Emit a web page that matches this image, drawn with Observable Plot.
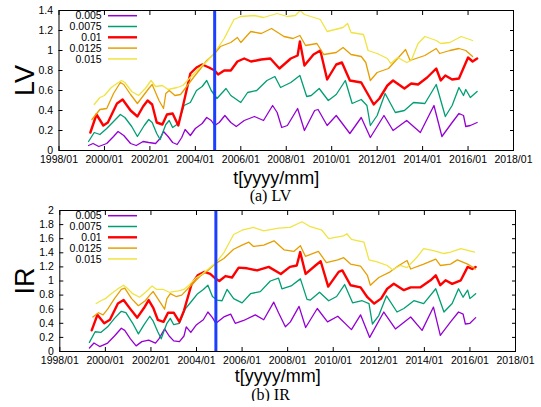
<!DOCTYPE html>
<html><head><meta charset="utf-8">
<script src="https://cdn.jsdelivr.net/npm/d3@7"></script>
<script src="https://cdn.jsdelivr.net/npm/@observablehq/plot@0.6"></script>
<style>
body{margin:0;background:#fff;width:541px;}
.cap{font-family:"Liberation Serif","DejaVu Serif",serif;font-size:16px;text-align:center;width:541px;color:#000;}
svg{overflow:visible;}
</style></head><body><div id="fig"></div>
<script>
// ---- data ----
const seriesNames = ["0.005", "0.0075", "0.01", "0.0125", "0.015"];
const seriesColors = ["#9400d3", "#009e73", "#ff0000", "#e69f00", "#f0e442"];
const xTicks = [1998, 2000, 2002, 2004, 2006, 2008, 2010, 2012, 2014, 2016, 2018];
const xTickLabels = ["1998/01", "2000/01", "2002/01", "2004/01", "2006/01", "2008/01", "2010/01", "2012/01", "2014/01", "2016/01", "2018/01"];
const eventTime = 2004.85;
const lvTicks = [0, 0.2, 0.4, 0.6, 0.8, 1, 1.2, 1.4];
const lvTickLabels = ["0", "0.2", "0.4", "0.6", "0.8", "1", "1.2", "1.4"];
const irTicks = [0, 0.2, 0.4, 0.6, 0.8, 1, 1.2, 1.4, 1.6, 1.8, 2];
const irTickLabels = ["0", "0.2", "0.4", "0.6", "0.8", "1", "1.2", "1.4", "1.6", "1.8", "2"];

// LV series: [time (decimal year), value]
const lv005 = [[1999.3,0.05],[1999.5,0.07],[1999.75,0.04],[2000.1,0.07],[2000.4,0.14],[2000.6,0.19],[2000.85,0.15],[2001.15,0.07],[2001.4,0.05],[2001.7,0.09],[2001.95,0.08],[2002.25,0.07],[2002.45,0.12],[2002.6,0.19],[2002.8,0.14],[2003.0,0.08],[2003.2,0.06],[2003.4,0.13],[2003.55,0.21],[2003.78,0.15],[2004.0,0.22],[2004.3,0.27],[2004.5,0.33],[2004.7,0.30],[2004.85,0.25],[2005.05,0.28],[2005.3,0.35],[2005.56,0.28],[2005.8,0.24],[2006.15,0.30],[2006.6,0.34],[2007.0,0.30],[2007.4,0.45],[2007.6,0.38],[2007.8,0.23],[2008.05,0.25],[2008.5,0.42],[2008.8,0.20],[2009.25,0.40],[2009.4,0.41],[2009.8,0.25],[2010.2,0.35],[2010.8,0.17],[2011.3,0.33],[2011.7,0.13],[2012.3,0.35],[2012.7,0.20],[2013.3,0.30],[2013.9,0.18],[2014.5,0.45],[2014.85,0.14],[2015.3,0.28],[2015.6,0.37],[2015.8,0.35],[2015.9,0.24],[2016.1,0.25],[2016.4,0.28]];
const lv0075 = [[1999.3,0.09],[1999.55,0.18],[1999.8,0.16],[2000.1,0.22],[2000.4,0.29],[2000.7,0.36],[2000.9,0.33],[2001.2,0.24],[2001.45,0.14],[2001.75,0.25],[2001.95,0.31],[2002.1,0.28],[2002.3,0.17],[2002.45,0.11],[2002.7,0.26],[2002.85,0.30],[2003.0,0.23],[2003.25,0.27],[2003.5,0.45],[2003.78,0.48],[2004.05,0.60],[2004.3,0.64],[2004.5,0.70],[2004.7,0.60],[2004.95,0.52],[2005.35,0.62],[2005.56,0.55],[2006.0,0.48],[2006.3,0.58],[2006.7,0.60],[2007.15,0.70],[2007.5,0.74],[2007.75,0.63],[2008.2,0.68],[2008.6,0.75],[2008.9,0.54],[2009.1,0.55],[2009.45,0.62],[2009.85,0.50],[2010.2,0.56],[2010.6,0.70],[2010.9,0.47],[2011.3,0.51],[2011.55,0.45],[2011.7,0.25],[2012.0,0.35],[2012.35,0.57],[2012.8,0.38],[2013.2,0.40],[2013.6,0.48],[2014.1,0.47],[2014.6,0.66],[2015.0,0.34],[2015.3,0.45],[2015.6,0.63],[2015.8,0.55],[2015.9,0.61],[2016.1,0.53],[2016.4,0.59]];
const lv01 = [[1999.38,0.18],[1999.65,0.36],[1999.95,0.25],[2000.15,0.28],[2000.55,0.47],[2000.8,0.51],[2001.15,0.40],[2001.45,0.34],[2001.7,0.44],[2001.9,0.50],[2002.1,0.46],[2002.3,0.28],[2002.55,0.26],[2002.75,0.36],[2003.0,0.37],[2003.25,0.25],[2003.45,0.44],[2003.78,0.77],[2004.05,0.83],[2004.3,0.86],[2004.6,0.83],[2004.85,0.80],[2005.0,0.76],[2005.27,0.80],[2005.56,0.80],[2005.85,0.89],[2006.15,0.92],[2006.45,0.89],[2006.9,0.91],[2007.3,0.92],[2007.7,0.82],[2008.2,0.92],[2008.5,0.95],[2008.6,1.09],[2008.8,0.85],[2009.2,0.96],[2009.5,1.0],[2009.8,0.71],[2010.2,0.86],[2010.45,0.88],[2010.8,0.70],[2011.3,0.68],[2011.55,0.58],[2011.85,0.46],[2012.1,0.52],[2012.45,0.65],[2012.7,0.70],[2013.2,0.62],[2013.5,0.67],[2013.8,0.66],[2014.2,0.73],[2014.6,0.82],[2014.8,0.70],[2015.0,0.75],[2015.3,0.71],[2015.6,0.72],[2016.0,0.93],[2016.2,0.89],[2016.4,0.92]];
const lv0125 = [[1999.45,0.31],[1999.8,0.41],[2000.1,0.42],[2000.4,0.57],[2000.7,0.68],[2000.85,0.66],[2001.15,0.56],[2001.45,0.47],[2001.75,0.56],[2001.95,0.62],[2002.1,0.66],[2002.4,0.50],[2002.6,0.42],[2002.7,0.57],[2002.85,0.60],[2003.1,0.55],[2003.35,0.56],[2003.65,0.65],[2003.95,0.74],[2004.2,0.81],[2004.5,0.90],[2004.85,0.97],[2005.1,1.04],[2005.56,1.08],[2005.85,1.13],[2006.0,1.08],[2006.44,1.19],[2006.9,1.17],[2007.35,1.22],[2007.9,1.14],[2008.3,1.12],[2008.6,1.15],[2008.85,1.05],[2009.35,1.07],[2009.65,0.96],[2010.2,0.98],[2010.5,1.03],[2010.85,0.96],[2011.3,0.94],[2011.5,0.88],[2011.7,0.70],[2012.0,0.78],[2012.5,0.82],[2012.9,0.92],[2013.25,1.01],[2013.45,0.90],[2014.1,0.95],[2014.6,1.02],[2014.75,0.97],[2015.2,1.0],[2015.6,1.02],[2015.9,1.0],[2016.2,0.94]];
const lv015 = [[1999.55,0.46],[1999.8,0.53],[2000.0,0.55],[2000.3,0.63],[2000.55,0.67],[2000.75,0.70],[2000.9,0.68],[2001.2,0.59],[2001.5,0.55],[2001.8,0.62],[2002.05,0.70],[2002.25,0.64],[2002.55,0.65],[2002.8,0.61],[2003.2,0.63],[2003.45,0.65],[2003.65,0.70],[2003.95,0.77],[2004.2,0.83],[2004.5,0.89],[2004.85,0.98],[2005.27,1.12],[2005.7,1.31],[2006.0,1.34],[2006.6,1.35],[2007.0,1.33],[2007.6,1.37],[2008.05,1.34],[2008.4,1.35],[2008.62,1.40],[2008.8,1.36],[2009.5,1.31],[2009.8,1.19],[2010.5,1.23],[2010.7,1.27],[2010.85,1.18],[2011.4,1.16],[2011.6,1.0],[2012.0,0.97],[2012.45,0.92],[2012.6,0.87],[2012.9,0.93],[2013.3,0.88],[2013.5,0.90],[2013.8,1.07],[2014.1,1.14],[2014.6,1.10],[2014.8,1.07],[2015.2,1.08],[2015.7,1.14],[2016.2,1.10]];

// IR series
const ir005 = [[1999.3,0.05],[1999.5,0.12],[1999.75,0.07],[2000.1,0.12],[2000.4,0.22],[2000.7,0.33],[2000.85,0.30],[2001.1,0.18],[2001.35,0.08],[2001.6,0.14],[2001.9,0.16],[2002.2,0.12],[2002.35,0.18],[2002.6,0.32],[2002.8,0.22],[2003.0,0.15],[2003.25,0.14],[2003.45,0.22],[2003.55,0.35],[2003.75,0.27],[2004.0,0.38],[2004.3,0.45],[2004.5,0.56],[2004.7,0.48],[2004.85,0.40],[2005.2,0.49],[2005.5,0.53],[2005.7,0.40],[2006.07,0.44],[2006.58,0.52],[2006.95,0.45],[2007.39,0.70],[2007.6,0.55],[2007.9,0.35],[2008.12,0.42],[2008.5,0.64],[2008.79,0.34],[2009.3,0.61],[2009.75,0.42],[2010.2,0.50],[2010.8,0.31],[2011.2,0.52],[2011.6,0.20],[2012.22,0.56],[2012.73,0.32],[2013.4,0.49],[2013.9,0.30],[2014.4,0.63],[2014.7,0.23],[2015.15,0.42],[2015.5,0.56],[2015.7,0.53],[2015.8,0.39],[2016.0,0.40],[2016.25,0.48]];
const ir0075 = [[1999.3,0.13],[1999.55,0.28],[1999.8,0.27],[2000.1,0.35],[2000.4,0.47],[2000.7,0.57],[2000.9,0.55],[2001.2,0.40],[2001.45,0.25],[2001.7,0.38],[2001.95,0.50],[2002.1,0.43],[2002.3,0.28],[2002.45,0.18],[2002.7,0.40],[2002.85,0.47],[2003.0,0.38],[2003.25,0.40],[2003.5,0.60],[2003.8,0.72],[2004.05,0.82],[2004.3,0.88],[2004.5,0.94],[2004.7,0.78],[2004.9,0.73],[2005.12,0.72],[2005.34,0.88],[2005.63,0.75],[2006.0,0.69],[2006.37,0.82],[2006.8,0.85],[2007.24,1.0],[2007.6,1.04],[2007.75,0.89],[2008.15,0.93],[2008.56,1.03],[2008.85,0.74],[2009.0,0.73],[2009.4,0.84],[2009.8,0.72],[2010.15,0.78],[2010.5,0.95],[2010.85,0.69],[2011.27,0.72],[2011.57,0.68],[2011.72,0.39],[2012.0,0.51],[2012.34,0.79],[2012.8,0.56],[2013.1,0.61],[2013.54,0.72],[2013.97,0.68],[2014.5,0.89],[2014.86,0.56],[2015.22,0.68],[2015.5,0.89],[2015.7,0.77],[2015.9,0.87],[2016.0,0.75],[2016.25,0.82]];
const ir01 = [[1999.4,0.30],[1999.65,0.52],[1999.95,0.40],[2000.2,0.45],[2000.55,0.68],[2000.8,0.73],[2001.15,0.58],[2001.4,0.48],[2001.7,0.62],[2001.9,0.73],[2002.1,0.62],[2002.3,0.45],[2002.55,0.42],[2002.75,0.55],[2003.0,0.55],[2003.25,0.42],[2003.45,0.58],[2003.78,0.95],[2004.05,1.08],[2004.35,1.13],[2004.6,1.10],[2004.85,1.03],[2005.0,1.0],[2005.27,1.07],[2005.56,1.05],[2005.85,1.19],[2006.22,1.18],[2006.66,1.15],[2007.17,1.20],[2007.7,1.10],[2008.1,1.20],[2008.4,1.22],[2008.55,1.41],[2008.79,1.10],[2009.22,1.22],[2009.45,1.28],[2009.78,0.92],[2010.24,1.13],[2010.4,1.15],[2010.76,0.94],[2011.2,0.91],[2011.5,0.77],[2011.8,0.68],[2012.1,0.75],[2012.37,0.89],[2012.66,0.96],[2013.1,0.87],[2013.4,0.91],[2013.83,0.91],[2014.27,1.01],[2014.5,1.08],[2014.7,0.94],[2014.93,1.01],[2015.22,0.96],[2015.6,1.01],[2015.9,1.20],[2016.1,1.17],[2016.25,1.20]];
const ir0125 = [[1999.45,0.49],[1999.7,0.55],[1999.9,0.52],[2000.1,0.60],[2000.4,0.75],[2000.7,0.88],[2000.85,0.90],[2001.15,0.75],[2001.45,0.65],[2001.75,0.72],[2001.95,0.80],[2002.1,0.85],[2002.4,0.70],[2002.6,0.60],[2002.7,0.75],[2002.85,0.82],[2003.1,0.78],[2003.35,0.80],[2003.65,0.90],[2003.95,1.0],[2004.2,1.08],[2004.5,1.15],[2004.85,1.25],[2005.2,1.32],[2005.63,1.45],[2006.0,1.51],[2006.3,1.55],[2006.5,1.49],[2006.95,1.51],[2007.4,1.57],[2007.85,1.44],[2008.27,1.42],[2008.56,1.50],[2008.78,1.35],[2009.35,1.42],[2009.7,1.26],[2010.2,1.30],[2010.46,1.33],[2010.76,1.24],[2011.2,1.21],[2011.5,1.08],[2011.63,0.94],[2012.0,1.05],[2012.5,1.13],[2012.88,1.22],[2013.24,1.29],[2013.4,1.17],[2013.97,1.24],[2014.5,1.31],[2014.7,1.22],[2015.15,1.24],[2015.45,1.30],[2015.9,1.24],[2016.25,1.17]];
const ir015 = [[1999.6,0.68],[1999.8,0.72],[2000.0,0.75],[2000.3,0.83],[2000.6,0.90],[2000.8,0.94],[2000.95,0.90],[2001.2,0.82],[2001.5,0.77],[2001.8,0.85],[2002.05,0.93],[2002.25,0.88],[2002.55,0.88],[2002.8,0.84],[2003.2,0.86],[2003.45,0.88],[2003.7,0.95],[2004.0,1.05],[2004.25,1.10],[2004.55,1.18],[2004.85,1.26],[2005.2,1.40],[2005.63,1.66],[2006.0,1.72],[2006.5,1.76],[2006.95,1.71],[2007.6,1.75],[2008.1,1.76],[2008.63,1.84],[2009.0,1.77],[2009.5,1.72],[2009.8,1.60],[2010.45,1.64],[2010.6,1.67],[2010.8,1.59],[2011.35,1.55],[2011.57,1.30],[2011.93,1.27],[2012.37,1.22],[2012.6,1.16],[2012.95,1.22],[2013.24,1.19],[2013.68,1.34],[2013.97,1.46],[2014.4,1.43],[2014.86,1.39],[2015.15,1.41],[2015.6,1.46],[2016.2,1.41]];

// ---- build ----
const toRows = (lists) => lists.flatMap((arr, i) => arr.map(([t, v]) => ({t, v, s: seriesNames[i]})));
const lvRows = toRows([lv005, lv0075, lv01, lv0125, lv015]);
const irRows = toRows([ir005, ir0075, ir01, ir0125, ir015]);

const FONT = "Liberation Sans, Arial, Helvetica, sans-serif";

function panel({rows, yDomain, yTicks, yTickLabels, yLabel, height, marginTop, marginBottom, marginLeft, marginRight, xLabelDy}) {
  const ax = {ticks: xTicks, tickFormat: d => xTickLabels[xTicks.indexOf(d)], label: null};
  const ay = {ticks: yTicks, tickFormat: d => yTickLabels[yTicks.indexOf(d)], label: null};
  const chart = Plot.plot({
    width: 541, height, marginTop, marginBottom, marginLeft, marginRight,
    x: {domain: [1998, 2018]},
    y: {domain: yDomain},
    style: {fontFamily: FONT, fontSize: "10.5px", color: "black", background: "white", overflow: "visible"},
    marks: [
      ...seriesNames.map((name, i) => Plot.line(rows.filter(r => r.s === name), {
        x: "t", y: "v", stroke: seriesColors[i], strokeWidth: i === 2 ? 2.4 : 1.3, strokeLinejoin: "round"
      })),
      Plot.ruleX([eventTime], {stroke: "#1b3fff", strokeWidth: 3}),
      Plot.frame({stroke: "black", strokeWidth: 1}),
      Plot.axisX({...ax, anchor: "bottom", tickSize: 0, tickPadding: 5, fontSize: 10.5}),
      Plot.axisX({...ax, anchor: "bottom", tickSize: 4, dy: -4, fill: "none"}),
      Plot.axisX({...ax, anchor: "top", tickSize: 4, dy: 4, fill: "none"}),
      Plot.axisY({...ay, anchor: "left", tickSize: 0, tickPadding: 6, fontSize: 10.5}),
      Plot.axisY({...ay, anchor: "left", tickSize: 4, dx: 4, fill: "none"}),
      Plot.axisY({...ay, anchor: "right", tickSize: 4, dx: -4, fill: "none"}),
      Plot.text([yLabel], {frameAnchor: "left", rotate: -90, dx: -(marginLeft - 25), fontSize: 27, fill: "black",
        textAnchor: "middle", lineAnchor: "middle"}),
      Plot.text(["t[yyyy/mm]"], {frameAnchor: "bottom", dy: xLabelDy, dx: -10, fontSize: 18, fill: "black",
        textAnchor: "middle", lineAnchor: "middle"})
    ]
  });
  // key (legend) inside the frame, top-left
  const svg = d3.select(chart);
  seriesNames.forEach((name, i) => {
    const y = marginTop + 5.7 + i * 10.8;
    svg.append("text").attr("x", 101.7).attr("y", y).attr("dy", "0.35em")
      .attr("text-anchor", "end").attr("font-size", 10.5).attr("fill", "black").text(name);
    svg.append("line").attr("x1", 108).attr("x2", 137).attr("y1", y).attr("y2", y)
      .attr("stroke", seriesColors[i]).attr("stroke-width", i === 2 ? 2.4 : 1.5);
  });
  return chart;
}

const fig = document.getElementById("fig");
fig.append(panel({rows: lvRows, yDomain: [0, 1.4], yTicks: lvTicks, yTickLabels: lvTickLabels, yLabel: "LV",
  height: 190, marginTop: 10, marginBottom: 40, marginLeft: 58.5, marginRight: 28, xLabelDy: 27.5}));
const capA = document.createElement("div");
capA.className = "cap"; capA.style.height = "10px"; capA.style.lineHeight = "12px"; capA.textContent = "(a) LV";
fig.append(capA);
fig.append(panel({rows: irRows, yDomain: [0, 2], yTicks: irTicks, yTickLabels: irTickLabels, yLabel: "IR",
  height: 188, marginTop: 10, marginBottom: 37, marginLeft: 59.3, marginRight: 26, xLabelDy: 25}));
const capB = document.createElement("div");
capB.className = "cap"; capB.style.height = "13px"; capB.style.lineHeight = "13px"; capB.textContent = "(b) IR";
fig.append(capB);
</script></body></html>
